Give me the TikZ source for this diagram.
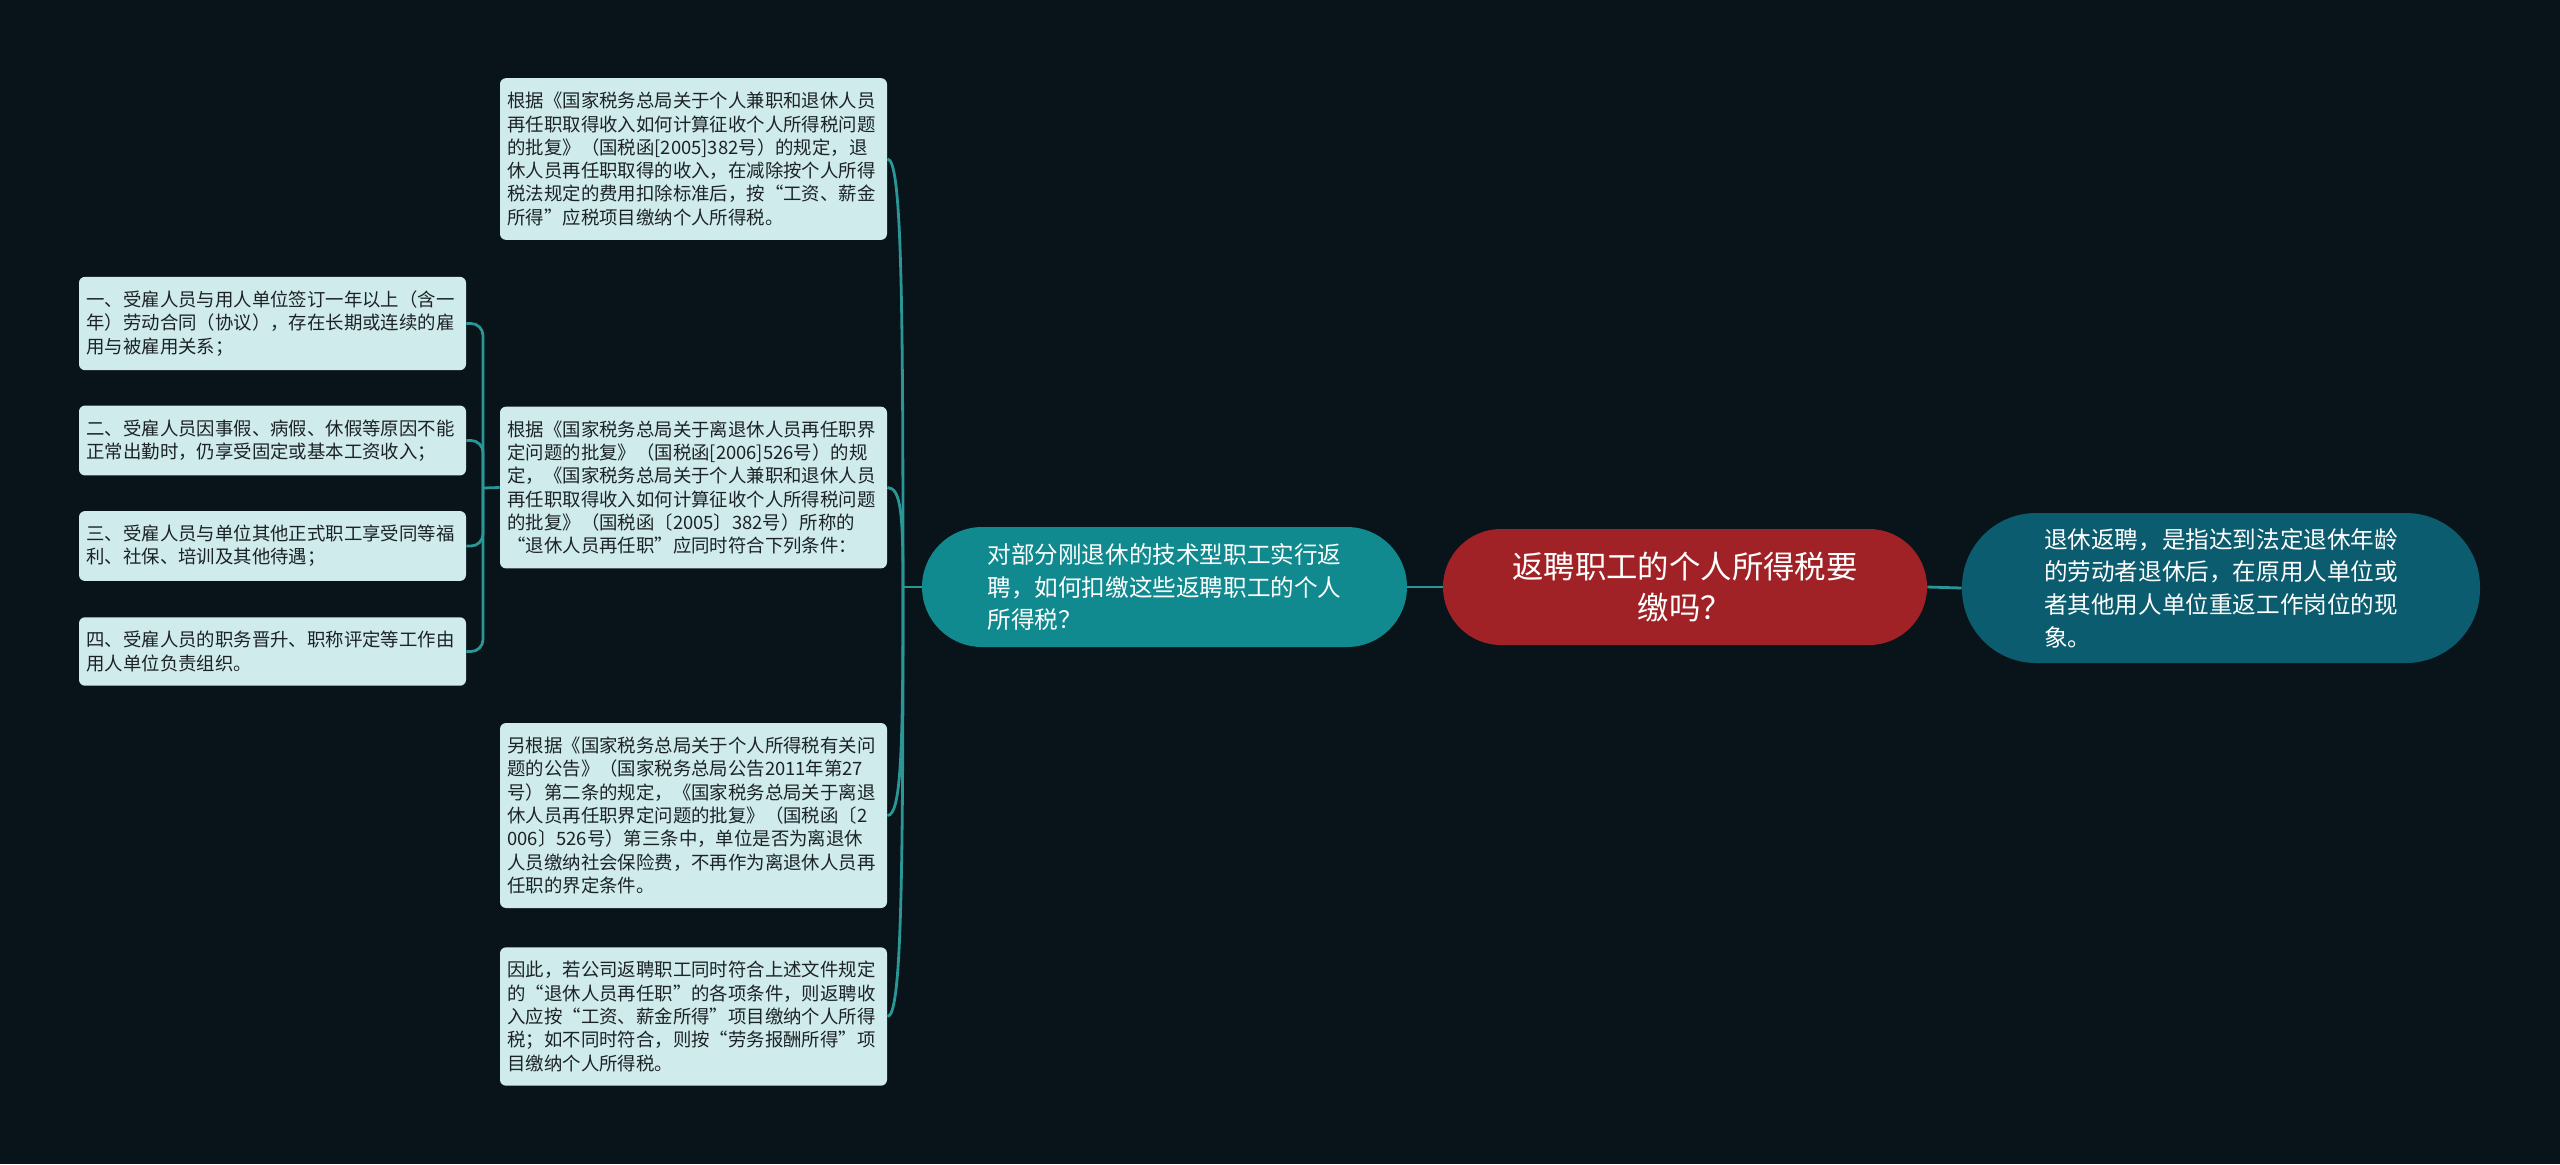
\documentclass[tikz,border=0pt]{standalone}
\usepackage{fontspec}
\newfontfamily\cjk{Noto Sans CJK SC}
\definecolor{bgdark}{HTML}{08131A}
\definecolor{boxfill}{HTML}{D0EBEC}
\definecolor{boxtext}{HTML}{1C2326}
\definecolor{tealmain}{HTML}{108A8E}
\definecolor{redroot}{HTML}{A02226}
\definecolor{bluenote}{HTML}{0B5C6E}
\definecolor{linkteal}{HTML}{2A9696}
\begin{document}
\begin{tikzpicture}[x=0.5pt,y=-0.5pt,
    box/.style={fill=boxfill, text=boxtext, rounded corners=3pt, align=left,
      text width=186pt, inner xsep=3.75pt, inner ysep=7pt,
      font={\cjk\fontsize{9.2pt}{11.65pt}\selectfont}},
    pill/.style={text=white, align=left, inner sep=0pt,
      font={\cjk\fontsize{11.8pt}{16.3pt}\selectfont}},
    link/.style={draw=linkteal, line width=1.4pt}]
  \fill[bgdark] (0,0) rectangle (2560,1164);
  \useasboundingbox (0,0) rectangle (2560,1164);

  % centre and the two sides
  \node[fill=redroot, text=white, align=center, rounded corners=29pt,
    minimum width=242pt, minimum height=58pt, inner sep=0pt,
    font={\cjk\fontsize{15.7pt}{20.5pt}\selectfont}]
    (root) at (1685,587) {返聘职工的个人所得税要\\缴吗？};
  \node[pill, fill=tealmain, rounded corners=30pt,
    minimum width=242.5pt, minimum height=60pt]
    (ask) at (1164.5,587) {对部分刚退休的技术型职工实行返\\聘，如何扣缴这些返聘职工的个人\\所得税？};
  \node[pill, fill=bluenote, rounded corners=37pt,
    minimum width=259pt, minimum height=75pt]
    (meaning) at (2221,588) {退休返聘，是指达到法定退休年龄\\的劳动者退休后，在原用人单位或\\者其他用人单位重返工作岗位的现\\象。};

  % documents
  \node[box] (doc1) at (693.5,159) {根据《国家税务总局关于个人兼职和退休人员\\再任职取得收入如何计算征收个人所得税问题\\的批复》（国税函[2005]382号）的规定，退\\休人员再任职取得的收入，在减除按个人所得\\税法规定的费用扣除标准后，按“工资、薪金\\所得”应税项目缴纳个人所得税。};
  \node[box] (doc2) at (693.5,487.5) {根据《国家税务总局关于离退休人员再任职界\\定问题的批复》（国税函[2006]526号）的规\\定，《国家税务总局关于个人兼职和退休人员\\再任职取得收入如何计算征收个人所得税问题\\的批复》（国税函〔2005〕382号）所称的\\“退休人员再任职”应同时符合下列条件：};
  \node[box] (doc3) at (693.5,815.5) {另根据《国家税务总局关于个人所得税有关问\\题的公告》（国家税务总局公告2011年第27\\号）第二条的规定，《国家税务总局关于离退\\休人员再任职界定问题的批复》（国税函〔2\\006〕526号）第三条中，单位是否为离退休\\人员缴纳社会保险费，不再作为离退休人员再\\任职的界定条件。};
  \node[box] (doc4) at (693.5,1016.5) {因此，若公司返聘职工同时符合上述文件规定\\的“退休人员再任职”的各项条件，则返聘收\\入应按“工资、薪金所得”项目缴纳个人所得\\税；如不同时符合，则按“劳务报酬所得”项\\目缴纳个人所得税。};

  % conditions
  \node[box] (cond1) at (272.5,323.5) {一、受雇人员与用人单位签订一年以上（含一\\年）劳动合同（协议），存在长期或连续的雇\\用与被雇用关系；};
  \node[box] (cond2) at (272.5,440.5) {二、受雇人员因事假、病假、休假等原因不能\\正常出勤时，仍享受固定或基本工资收入；};
  \node[box] (cond3) at (272.5,546) {三、受雇人员与单位其他正式职工享受同等福\\利、社保、培训及其他待遇；};
  \node[box] (cond4) at (272.5,651.5) {四、受雇人员的职务晋升、职称评定等工作由\\用人单位负责组织。};

  \coordinate (fork) at (903,587);
  \coordinate (split) at (483,488);

  \draw[link] (root.west) -- (ask.east);
  \draw[link] (root.east) -- (meaning.west);
  \draw[link] (ask.west) -- (fork);
  \draw[link] (fork) .. controls +(0,-300) and +(14,0) .. (doc1.east);
  \draw[link] (fork) .. controls +(0,-70) and +(14,0) .. (doc2.east);
  \draw[link] (fork) .. controls +(0,160) and +(14,0) .. (doc3.east);
  \draw[link] (fork) .. controls +(0,300) and +(14,0) .. (doc4.east);

  \draw[link] (doc2.west) -- (split);
  \begin{scope}[rounded corners=6pt]
    \draw[link] (split) |- (cond1.east);
    \draw[link] (split) |- (cond2.east);
    \draw[link] (split) |- (cond3.east);
    \draw[link] (split) |- (cond4.east);
  \end{scope}
\end{tikzpicture}
\end{document}
